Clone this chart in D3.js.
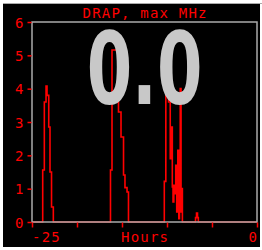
<!DOCTYPE html>
<html><head><meta charset="utf-8">
<script src="https://cdn.jsdelivr.net/npm/d3@7"></script>
<style>html,body{margin:0;padding:0;background:#fff;}svg{display:block;}</style>
</head><body>
<script>
const title = "DRAP, max MHz";
const bigValue = "0.0";
const yTicks = [0, 1, 2, 3, 4, 5, 6];
const xTicks = [-25, -20, -15, -10, -5, 0];
const xLabels = ["-25", "Hours", "0"];
const hours = [-25,
  -23.81, -23.63, -23.44, -23.33, -23.14, -23.0, -22.83, -22.63,
  -16.28, -16.11, -15.39, -15.11, -14.83, -14.67, -14.44, -14.28,
  -10.30, -10.13, -9.83, -9.64, -9.53, -9.41, -9.33, -9.24, -9.13, -9.03, -8.92, -8.80, -8.69, -8.61, -8.53, -8.44, -8.36, -8.29,
  -6.83, -6.72, -6.61, -6.52, 0];
const mhz = [0,
  1.56, 3.6, 4.08, 3.8, 2.85, 1.5, 0.45, 0,
  1.56, 5.16, 3.3, 2.55, 1.41, 1.03, 0.9, 0,
  1.22, 4.0, 3.6, 1.9, 2.85, 1.05, 0.6, 1.1, 0.85, 1.7, 0.3, 2.15, 0.1, 1.8, 4.0, 0.3, 1.0, 0,
  0.13, 0.27, 0.13, 0, 0];

const W = 262, H = 250;
const svg = d3.select("body").append("svg").attr("width", W).attr("height", H);
svg.append("rect").attr("x", 0).attr("y", 0).attr("width", W).attr("height", H).attr("fill", "#fff");
svg.append("rect").attr("x", 3).attr("y", 3).attr("width", 257).attr("height", 244).attr("fill", "#000");
svg.append("line").attr("x1", 3).attr("x2", 262).attr("y1", 3.5).attr("y2", 3.5).attr("stroke", "#aaa").attr("stroke-width", 1);

const x = d3.scaleLinear().domain([-25, 0]).range([32, 257]);
const y = d3.scaleLinear().domain([0, 6]).range([222, 22]);
const red = "#ff0000";
const font = "'DejaVu Sans Mono', monospace";

const data = hours.map((h, i) => [h, mhz[i]]);
svg.append("path").datum(data)
  .attr("d", d3.line().x(d => x(d[0])).y(d => y(d[1])).curve(d3.curveStepAfter))
  .attr("fill", "none").attr("stroke", red).attr("stroke-width", 1.6);

// big value
svg.append("text").text(bigValue)
  .attr("transform", "translate(144.5,103.5) scale(0.66,1)")
  .attr("text-anchor", "middle")
  .attr("font-family", "'DejaVu Sans', sans-serif").attr("font-weight", "bold")
  .attr("font-size", 99).attr("fill", "#c8c8c8");

// frame
svg.append("rect").attr("x", x(-25)).attr("y", y(6)).attr("width", x(0) - x(-25)).attr("height", y(0) - y(6))
  .attr("fill", "none").attr("stroke", "#aaa").attr("stroke-width", 1.5);

// y axis ticks
const yAxis = d3.axisLeft(y).tickValues(yTicks).tickSize(4).tickPadding(4).tickFormat(d3.format("d"));
const gy = svg.append("g").attr("transform", `translate(${x(-25) - 0.5},0)`).call(yAxis);
gy.select(".domain").remove();
gy.selectAll(".tick line").attr("stroke", red).attr("stroke-width", 1.5);
gy.selectAll(".tick text").attr("fill", red).attr("font-family", font).attr("font-size", 14).attr("dy", "0.36em");

// x axis ticks
const xAxis = d3.axisBottom(x).tickValues(xTicks).tickSize(5).tickFormat("");
const gx = svg.append("g").attr("transform", `translate(0,${y(0) + 0.5})`).call(xAxis);
gx.select(".domain").remove();
gx.selectAll(".tick line").attr("stroke", red).attr("stroke-width", 1.5);

const lab = (t, xx, anchor) => svg.append("text").text(t).attr("x", xx).attr("y", 242)
  .attr("text-anchor", anchor).attr("fill", red).attr("font-family", font).attr("font-size", 14).attr("letter-spacing", "1.2px");
lab(xLabels[0], x(-25), "start");
lab(xLabels[1], (x(-25) + x(0)) / 2 + 0.6, "middle");
svg.append("text").text(xLabels[2]).attr("x", x(0)).attr("y", 242).attr("text-anchor", "end")
  .attr("fill", red).attr("font-family", font).attr("font-size", 14);

svg.append("text").text(title).attr("x", (x(-25) + x(0)) / 2 + 0.6).attr("y", 18)
  .attr("text-anchor", "middle").attr("fill", red).attr("font-family", font).attr("font-size", 14).attr("letter-spacing", "1.2px");
</script>
</body></html>
